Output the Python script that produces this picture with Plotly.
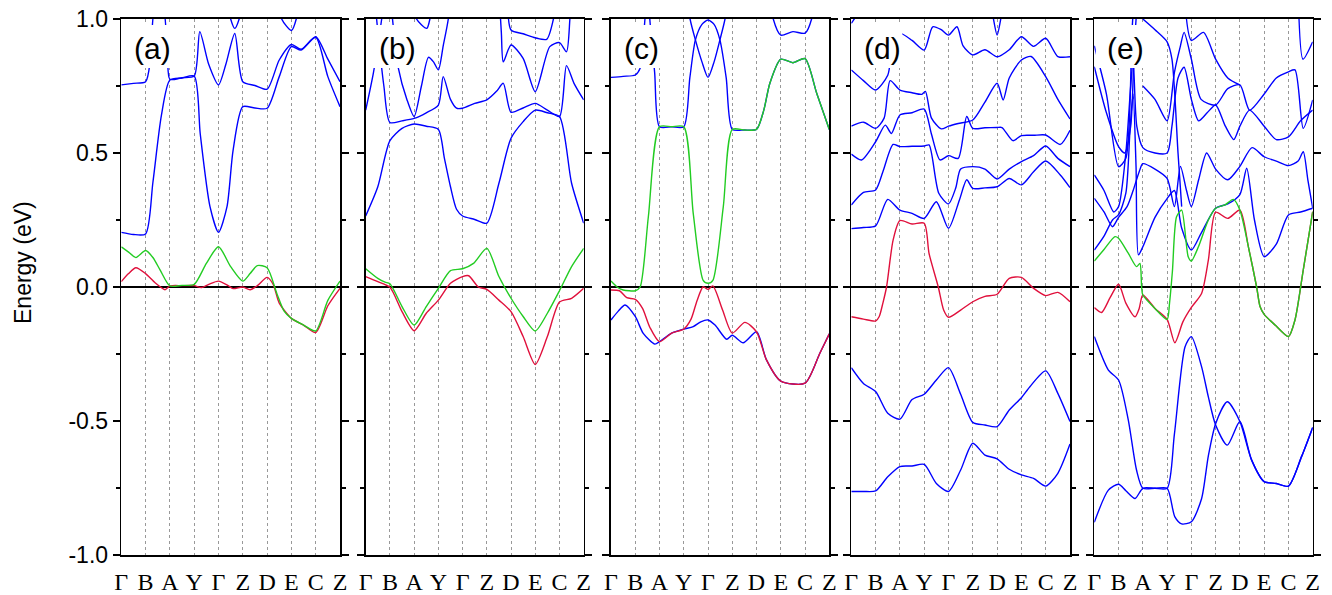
import plotly.graph_objects as go

W, H = 1332, 595

# ---------------- tick labels / axes data ----------------
PATH_LABELS = ["Γ", "B", "A", "Y", "Γ", "Z", "D", "E", "C", "Z"]
PATH_POS = [0, 1, 2, 3, 4, 5, 6, 7, 8, 9]
Y_TICKS = [-1.0, -0.5, 0.0, 0.5, 1.0]
Y_TICK_TEXT = ["-1.0", "-0.5", "0.0", "0.5", "1.0"]
Y_MINOR = [-0.75, -0.25, 0.25, 0.75]
PANEL_NAMES = ["(a)", "(b)", "(c)", "(d)", "(e)"]

# ---------------- band data: (k, energy in eV) ----------------
# panel (a)
A_RED = [(0,0.02),(0.3,0.05),(0.6,0.072),(1,0.05),(1.4,0.015),(1.8,-0.01),(2,0.004),(2.5,0.005),(3,0.005),
         (3.3,-0.002),(3.6,0.01),(4,0.022),(4.4,0.005),(4.6,-0.006),(5,0.0),(5.3,-0.01),(5.6,0.005),(6,0.036),
         (6.25,0.01),(6.5,-0.06),(7,-0.117),(7.5,-0.142),(8,-0.17),(8.5,-0.07),(9,-0.005)]
A_GREEN = [(0,0.15),(0.3,0.13),(0.6,0.11),(1,0.136),(1.3,0.11),(1.6,0.063),(2,0.004),(2.5,0.006),(3,0.01),
           (3.5,0.088),(4,0.15),(4.5,0.076),(5,0.022),(5.3,0.05),(5.6,0.08),(6,0.072),(6.4,-0.024),(6.7,-0.09),
           (7,-0.117),(7.5,-0.142),(8,-0.164),(8.5,-0.05),(9,0.022)]
A_BLUE1 = [(0,0.204),(0.5,0.196),(1,0.198),(1.3,0.39),(1.65,0.64),(2,0.772),(2.5,0.78),(3,0.787),(3.25,0.57),
           (3.65,0.3),(4,0.204),(4.35,0.3),(4.6,0.51),(5,0.673),(5.5,0.668),(6,0.667),(6.5,0.785),(7,0.897),
           (7.4,0.884),(8,0.932),(8.5,0.785),(9,0.673)]
A_BLUE2 = [(0,0.754),(0.5,0.76),(1,0.766),(1.2,0.85),(1.4,1.05),(1.7,1.05),(1.9,0.85),(2,0.775),(2.5,0.781),
           (3,0.787),(3.23,0.953),(3.6,0.83),(4,0.754),(4.3,0.83),(4.67,0.946),(5,0.766),(5.5,0.752),(6,0.738),
           (6.5,0.847),(7,0.905),(7.4,0.887),(8,0.934),(8.5,0.85),(9,0.766)]
A_BLUE3 = [(4.3,1.1),(4.5,1.0),(4.67,0.965),(4.85,1.0),(5.05,1.1)]
A_BLUE4 = [(6.45,1.1),(6.6,1.0),(7,0.957),(7.2,1.0),(7.35,1.1)]

# panel (b)
B_RED = [(0,0.039),(0.5,0.02),(1,-0.001),(1.5,-0.092),(2,-0.163),(2.5,-0.098),(3,-0.049),(3.5,0.014),(4,0.039),
         (4.25,0.042),(4.65,0.0),(5,-0.009),(5.5,-0.049),(6,-0.092),(6.5,-0.185),(7,-0.289),(7.5,-0.185),
         (8,-0.056),(8.5,-0.042),(9,-0.005)]
B_GREEN = [(0,0.068),(0.5,0.032),(0.8,0.018),(1,0.012),(1.5,-0.073),(2,-0.142),(2.5,-0.073),(3,-0.005),
           (3.5,0.061),(4,0.068),(4.45,0.088),(5,0.144),(5.5,0.039),(6,-0.042),(6.5,-0.11),(7,-0.164),
           (7.5,-0.098),(8,-0.014),(8.5,0.076),(9,0.144)]
B_BLUE1 = [(0,0.265),(0.5,0.374),(1,0.546),(1.5,0.592),(2,0.608),(2.5,0.6),(3,0.588),(3.25,0.48),(3.5,0.374),
           (3.75,0.29),(4,0.265),(4.5,0.252),(5,0.238),(5.5,0.387),(6,0.555),(6.5,0.617),(7,0.66),(7.5,0.65),
           (8,0.636),(8.5,0.387),(9,0.238)]
B_BLUE2 = [(0,0.66),(0.32,0.8),(0.66,1.0),(0.8,1.1)]
B_BLUE3 = [(0.35,1.1),(0.45,1.0),(0.75,0.75),(1,0.614),(1.5,0.62),(2,0.629),(2.5,0.65),(3,0.679),(3.2,0.785),
           (3.5,0.7),(3.75,0.667),(4,0.667),(4.5,0.685),(5,0.698),(5.4,0.73),(5.68,0.76),(6,0.652),(6.5,0.668),
           (7,0.685),(7.5,0.66),(8,0.636),(8.29,0.826),(8.6,0.76),(9,0.698)]
B_BLUE4 = [(1.0,1.1),(1.35,0.816),(1.7,0.7),(2,0.636),(2.3,0.75),(2.59,0.857),(2.8,0.84),(3,0.81),(3.2,0.9),
           (3.41,1.0),(3.5,1.1)]
B_BLUE5 = [(5.5,1.1),(5.6,0.95),(5.68,0.84),(6,0.903),(6.5,0.853),(7,0.729),(7.6,0.897),(8,0.912),(8.29,0.878),
           (8.43,1.0),(8.5,1.1)]
B_BLUE6 = [(5.85,1.1),(6,0.959),(6.5,0.945),(7,0.93),(7.47,0.924),(7.75,1.0),(7.9,1.1)]
B_BLUE7 = [(2.0,1.1),(2.1,1.0),(2.52,0.965),(2.65,1.0),(2.75,1.1)]

# panel (c)
C_RED = [(0,-0.011),(0.35,-0.014),(0.65,-0.04),(1,-0.046),(1.3,-0.08),(1.6,-0.15),(2,-0.204),(2.5,-0.172),
         (3,-0.157),(3.3,-0.12),(3.55,-0.05),(3.8,0.001),(4,-0.009),(4.2,0.004),(4.6,-0.086),(5,-0.172),
         (5.52,-0.132),(6,-0.167),(6.41,-0.272),(7,-0.351),(8,-0.359),(8.61,-0.247),(9,-0.175)]
C_GREEN = [(0,0.022),(0.25,0.0),(0.5,-0.011),(1,-0.014),(1.2,0.0),(1.54,0.262),(2,0.598),(2.5,0.598),(3,0.598),
           (3.39,0.275),(3.8,0.025),(4,0.014),(4.2,0.025),(4.63,0.3),(5,0.588),(5.5,0.586),(6,0.588),(6.3,0.66),
           (6.55,0.76),(7,0.85),(7.5,0.837),(8,0.852),(8.48,0.723),(9,0.588)]
C_BLUE1 = [(0,-0.123),(0.3,-0.09),(0.58,-0.067),(1,-0.11),(1.33,-0.173),(1.81,-0.213),(2,-0.204),(2.5,-0.172),
           (3,-0.157),(3.39,-0.148),(3.7,-0.13),(4,-0.123),(4.29,-0.142),(4.77,-0.195),(5,-0.18),(5.45,-0.208),
           (6,-0.167),(6.41,-0.272),(7,-0.351),(8,-0.359),(8.61,-0.247),(9,-0.175)]
C_BLUE2 = [(0,0.782),(0.5,0.786),(1,0.791),(1.2,0.816),(1.4,1.0),(1.5,1.1)]
C_BLUE3 = [(1.55,1.1),(1.6,1.0),(1.8,0.8),(2,0.598),(2.5,0.598),(3,0.598),(3.25,0.78),(3.48,0.922),(3.75,0.98),
           (4,0.996),(4.25,0.98),(4.49,0.922),(4.75,0.78),(5,0.588),(5.5,0.586),(6,0.588),(6.3,0.66),(6.55,0.76),
           (7,0.85),(7.5,0.837),(8,0.852),(8.48,0.723),(9,0.588)]
C_BLUE4 = [(3.1,1.1),(3.26,1.0),(3.48,0.922),(3.75,0.84),(4,0.782),(4.25,0.84),(4.49,0.922),(4.7,1.0),(4.85,1.1)]
C_BLUE5 = [(6.55,1.1),(6.69,1.0),(7,0.94),(7.5,0.953),(8,0.947),(8.27,1.0),(8.4,1.1)]

# panel (d)
D_RED = [(0,-0.111),(0.5,-0.12),(1,-0.127),(1.15,-0.11),(1.3,-0.06),(1.45,0.0),(1.72,0.175),(2,0.248),
         (2.5,0.235),(3,0.238),(3.2,0.125),(3.58,0.0),(3.8,-0.086),(4,-0.113),(4.5,-0.086),(5,-0.055),
         (5.5,-0.035),(6,-0.027),(6.5,0.032),(7,0.036),(7.5,-0.005),(8,-0.032),(8.5,-0.02),(9,-0.055)]
D_LOW1 = [(0,-0.301),(0.5,-0.36),(1,-0.39),(1.5,-0.471),(2,-0.493),(2.5,-0.42),(3,-0.4),(3.5,-0.347),(4,-0.301),
          (4.5,-0.4),(5,-0.505),(5.5,-0.515),(6,-0.521),(6.5,-0.459),(7,-0.413),(7.35,-0.372),(8,-0.313),
          (8.5,-0.397),(9,-0.502)]
D_LOW2 = [(0,-0.763),(0.5,-0.763),(1,-0.761),(1.5,-0.708),(2,-0.67),(2.5,-0.668),(3,-0.662),(3.5,-0.733),
          (4,-0.763),(4.5,-0.683),(5,-0.583),(5.5,-0.627),(6,-0.641),(6.5,-0.68),(7,-0.701),(7.5,-0.714),
          (8,-0.743),(8.5,-0.695),(9,-0.586)]
D_UP1 = [(0,0.218),(0.5,0.222),(1,0.228),(1.5,0.327),(2,0.287),(2.5,0.275),(3,0.256),(3.5,0.318),(4,0.219),
         (4.45,0.325),(4.75,0.4),(5,0.368),(5.5,0.37),(6,0.374),(6.5,0.405),(7,0.381),(7.5,0.43),(8,0.47),
         (8.6,0.418),(9,0.371)]
D_UP2 = [(0,0.306),(0.5,0.353),(1,0.362),(1.3,0.43),(1.72,0.532),(2,0.524),(2.5,0.525),(3,0.526),(3.2,0.53),
         (3.6,0.35),(4,0.31),(4.3,0.37),(4.5,0.44),(5,0.449),(5.5,0.44),(6,0.403),(6.5,0.44),(7,0.468),
         (7.5,0.49),(8,0.526),(8.5,0.48),(9,0.449)]
D_UP3 = [(0,0.496),(0.42,0.474),(1,0.542),(1.4,0.604),(1.65,0.573),(2,0.642),(2.5,0.65),(3,0.664),(3.3,0.57),
         (3.65,0.474),(4,0.49),(4.4,0.48),(4.75,0.636),(5,0.592),(5.5,0.594),(6,0.595),(6.2,0.595),(6.65,0.546),
         (7,0.565),(7.5,0.566),(8,0.567),(8.6,0.532),(9,0.585)]
D_UP4 = [(0,0.6),(0.5,0.615),(1,0.592),(1.35,0.63),(1.6,0.77),(2,0.735),(2.5,0.725),(2.9,0.719),(3.05,0.73),
         (3.3,0.63),(3.7,0.59),(4,0.6),(4.4,0.61),(5,0.623),(5.5,0.69),(6,0.76),(6.25,0.698),(6.5,0.78),
         (7,0.847),(7.4,0.86),(8,0.785),(8.5,0.7),(9,0.627)]
D_UP5 = [(0,0.81),(0.5,0.77),(1,0.735),(1.5,0.79),(1.7,0.9),(2,0.946),(2.5,0.92),(3,0.884),(3.35,0.971),
         (3.7,0.96),(4,0.94),(4.35,0.971),(4.6,0.9),(5,0.866),(5.5,0.885),(6,0.859),(6.5,0.885),(7,0.934),
         (7.5,0.898),(8,0.928),(8.5,0.86),(9,0.859)]
D_UP6 = [(0,0.984),(0.25,1.02),(0.5,1.1)]
D_UP7 = [(5.7,1.1),(5.85,1.0),(6,0.94),(6.15,1.0),(6.3,1.1)]

# panel (e)
E_RED = [(0,-0.077),(0.3,-0.095),(0.65,-0.04),(1,0.01),(1.3,-0.06),(1.68,-0.111),(1.85,-0.08),(2,-0.03),
         (2.5,-0.08),(3,-0.121),(3.32,-0.208),(3.65,-0.13),(4,-0.076),(4.42,-0.024),(4.7,0.1),(5,0.279),
         (5.5,0.256),(6,0.287),(6.35,0.15),(6.69,0.0),(6.83,-0.073),(7,-0.102),(7.45,-0.142),(8,-0.185),
         (8.27,-0.123),(8.61,0.063),(9,0.281)]
E_GREEN = [(0,0.097),(0.4,0.14),(0.85,0.188),(1,0.182),(1.4,0.126),(1.74,0.076),(1.88,0.088),(1.95,0.0),
           (2,-0.03),(2.5,-0.08),(3,-0.121),(3.1,-0.06),(3.22,0.06),(3.39,0.262),(3.6,0.287),(3.87,0.113),
           (4,0.097),(4.29,0.15),(4.7,0.25),(5,0.294),(5.38,0.306),(5.73,0.327),(6,0.287),(6.35,0.15),
           (6.69,0.0),(6.83,-0.073),(7,-0.102),(7.45,-0.142),(8,-0.185),(8.27,-0.123),(8.61,0.063),(9,0.281)]
E_LOW1 = [(0,-0.185),(0.58,-0.31),(1,-0.347),(1.4,-0.496),(1.74,-0.683),(2,-0.751),(2.5,-0.751),(3,-0.751),
          (3.3,-0.55),(3.74,-0.223),(4,-0.185),(4.42,-0.297),(4.7,-0.41),(5,-0.515),(5.48,-0.59),(6,-0.502),
          (6.48,-0.645),(7,-0.726),(7.5,-0.733),(8,-0.743),(8.54,-0.633),(9,-0.524)]
E_LOW2 = [(0,-0.878),(0.58,-0.758),(1,-0.736),(1.3,-0.76),(1.68,-0.789),(2,-0.751),(2.5,-0.751),(3,-0.751),
          (3.32,-0.858),(3.6,-0.884),(4,-0.876),(4.42,-0.79),(4.7,-0.63),(5,-0.51),(5.48,-0.428),(6,-0.502),
          (6.48,-0.645),(7,-0.726),(7.5,-0.733),(8,-0.743),(8.54,-0.633),(9,-0.524)]
E_UP1 = [(0,0.138),(0.4,0.19),(0.75,0.25),(1,0.27),(1.3,0.35),(1.48,0.6),(1.6,0.72),(1.72,0.45),(1.82,0.12),
         (2,0.15),(2.5,0.26),(3,0.33),(3.3,0.36),(3.6,0.22),(4,0.138),(4.4,0.2),(5,0.294),(5.5,0.31),(6,0.345),
         (6.28,0.443),(6.6,0.25),(7,0.113),(7.5,0.16),(8,0.269),(8.5,0.28),(9,0.294)]
E_UP2 = [(0,0.331),(0.4,0.28),(0.75,0.225),(1,0.26),(1.35,0.3),(1.6,0.36),(1.85,0.43),(2,0.46),(2.5,0.44),
         (3,0.405),(3.3,0.3),(3.55,0.45),(3.8,0.36),(4,0.3),(4.3,0.4),(4.63,0.5),(5,0.44),(5.5,0.4),(6,0.45),
         (6.5,0.52),(7,0.486),(7.5,0.47),(8,0.453),(8.4,0.47),(8.61,0.505),(8.8,0.4),(9,0.294)]
E_UP3 = [(0,0.418),(0.4,0.36),(0.8,0.28),(1,0.3),(1.3,0.5),(1.5,0.75),(1.6,0.85),(1.75,0.6),(2,0.52),(2.5,0.5),
         (3,0.5),(3.2,0.6),(3.45,0.78),(3.7,0.82),(4,0.7),(4.3,0.62),(4.65,0.65),(5,0.679),(5.4,0.6),
         (5.75,0.55),(6,0.6),(6.4,0.66),(7,0.6),(7.5,0.55),(8,0.56),(8.5,0.62),(9,0.66)]
E_UP4 = [(0,0.822),(0.5,0.65),(1,0.524),(1.25,0.5),(1.5,0.6),(1.65,0.9),(1.8,1.1)]
E_UP5 = [(0,0.9),(0.5,0.72),(1,0.449),(1.3,0.48),(1.55,0.95),(1.65,1.1)]
E_UP6 = [(2,0.75),(2.5,0.7),(3,0.62),(3.3,0.8),(3.55,0.9),(3.7,0.95),(4,0.85),(4.4,0.7),(5,0.679),(5.5,0.74),
         (6,0.754),(6.4,0.66),(7,0.72),(7.5,0.78),(8,0.803),(8.27,0.81),(8.61,0.592),(9,0.698)]
E_UP7 = [(2,1.0),(2.5,0.96),(3,0.915),(3.2,0.85),(3.45,0.5),(3.6,0.3)]
E_UP8 = [(3.7,1.1),(4,0.92),(4.5,0.95),(5,0.85),(5.5,0.78),(6,0.754)]
E_UP9 = [(8.4,1.1),(8.6,0.85),(9,0.915)]

BLUE_BANDS = [
    [A_BLUE1, A_BLUE2, A_BLUE3, A_BLUE4],
    [B_BLUE1, B_BLUE2, B_BLUE3, B_BLUE4, B_BLUE5, B_BLUE6, B_BLUE7],
    [C_BLUE1, C_BLUE2, C_BLUE3, C_BLUE4, C_BLUE5],
    [D_LOW1, D_LOW2, D_UP1, D_UP2, D_UP3, D_UP4, D_UP5, D_UP6, D_UP7],
    [E_LOW1, E_LOW2, E_UP1, E_UP2, E_UP3, E_UP4, E_UP5, E_UP6, E_UP7, E_UP8, E_UP9],
]
RED_BANDS = [[A_RED], [B_RED], [C_RED], [D_RED], [E_RED]]
GREEN_BANDS = [[A_GREEN], [B_GREEN], [C_GREEN], [], [E_GREEN]]

# ---------------- styling / layout ----------------
BLUE, RED, GREEN = "#0000FF", "#E0103C", "#22CC22"
PANEL_LEFT_PX = [121.3, 365.7, 611.0, 851.3, 1094.3]
PANEL_RIGHT_PX = [340.0, 583.7, 829.3, 1070.0, 1312.7]
TOP_PX, BOTTOM_PX = 19, 555

fig = go.Figure()


def add_band(band, color, idx):
    sfx = "" if idx == 0 else str(idx + 1)
    fig.add_trace(go.Scatter(
        x=[p[0] for p in band], y=[p[1] for p in band], mode="lines",
        line=dict(color=color, width=1.4, shape="spline", smoothing=0.7),
        xaxis="x" + sfx, yaxis="y" + sfx, showlegend=False, hoverinfo="skip"))


for i in range(5):
    for b in BLUE_BANDS[i]:
        add_band(b, BLUE, i)
    for b in RED_BANDS[i]:
        add_band(b, RED, i)
    for b in GREEN_BANDS[i]:
        add_band(b, GREEN, i)

layout = dict(
    width=W, height=H, margin=dict(l=0, r=0, t=0, b=0, pad=0), autosize=False,
    paper_bgcolor="white", plot_bgcolor="white", showlegend=False,
)
ydom = [1 - BOTTOM_PX / H, 1 - TOP_PX / H]
shapes, annotations = [], []
for i in range(5):
    sfx = "" if i == 0 else str(i + 1)
    layout["xaxis" + sfx] = dict(
        domain=[PANEL_LEFT_PX[i] / W, PANEL_RIGHT_PX[i] / W], anchor="y" + sfx,
        range=[0, 9], tickmode="array", tickvals=PATH_POS, ticktext=PATH_LABELS,
        tickfont=dict(family="Liberation Serif", size=24, color="black"),
        ticks="", ticklabelstandoff=5, automargin=False,
        showgrid=True, gridcolor="#808080", gridwidth=0.8, griddash="dot",
        showline=True, linecolor="black", linewidth=1.6, mirror=True, zeroline=False,
    )
    layout["yaxis" + sfx] = dict(
        domain=ydom, anchor="x" + sfx, range=[-1, 1], automargin=False,
        tickmode="array", tickvals=Y_TICKS, ticktext=Y_TICK_TEXT,
        showticklabels=(i == 0),
        tickfont=dict(family="Liberation Sans", size=23, color="black"),
        ticks="outside", ticklen=7, tickwidth=1.2, tickcolor="black",
        minor=dict(tickmode="array", tickvals=Y_MINOR, ticks="outside", ticklen=4,
                   tickwidth=1.2, tickcolor="black", showgrid=False),
        showgrid=False, zeroline=True, zerolinecolor="black", zerolinewidth=1.6,
        showline=True, linecolor="black", linewidth=1.6, mirror="ticks",
    )
    shapes.append(dict(type="rect", xref="x" + sfx, yref="y" + sfx,
                       x0=0.06, x1=2.1, y0=0.817, y1=0.978,
                       fillcolor="white", line=dict(width=0), layer="above"))
    annotations.append(dict(text=PANEL_NAMES[i], xref="paper", yref="paper",
                            x=(PANEL_LEFT_PX[i] + 11) / W, y=1 - 48 / H,
                            xanchor="left", yanchor="middle", showarrow=False,
                            font=dict(family="Liberation Sans", size=30, color="black")))

annotations.append(dict(text="Energy (eV)", xref="paper", yref="paper",
                        x=23 / W, y=1 - 263 / H, textangle=-90,
                        xanchor="center", yanchor="middle", showarrow=False,
                        font=dict(family="Liberation Sans", size=23, color="black")))
layout["shapes"] = shapes
layout["annotations"] = annotations
fig.update_layout(**layout)
fig.write_html("out.html", config={"displayModeBar": False, "staticPlot": True},
               post_script="document.body.style.margin='0px';document.body.style.overflow='hidden';")
